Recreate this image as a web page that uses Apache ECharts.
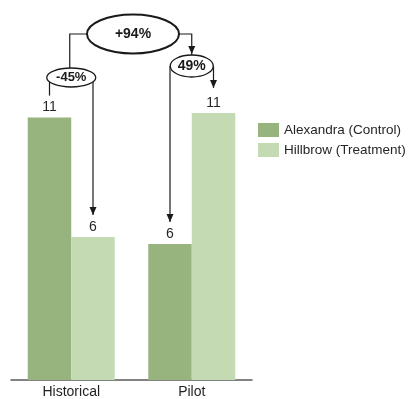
<!DOCTYPE html>
<html>
<head>
<meta charset="utf-8">
<script src="https://cdn.jsdelivr.net/npm/echarts@6/dist/echarts.min.js"></script>
<style>
  html, body { margin: 0; padding: 0; background: #fff; }
  #chart { width: 412px; height: 399px; }
</style>
</head>
<body>
<div id="chart"></div>
<script>
// Periods on the x axis
var periods = ['Historical', 'Pilot'];
// Series values per period
var alexandra = [11.2, 5.8];   // Alexandra (Control)
var hillbrow = [6.1, 11.4];    // Hillbrow (Treatment)
var seriesNames = ['Alexandra (Control)', 'Hillbrow (Treatment)'];
// Change annotations
var gapHistorical = '-45%';
var gapPilot = '49%';
var gapChange = '+94%';

var FONT = '"Liberation Sans", Arial, sans-serif';
var BAR_W = 43.5;
var INK = '#1a1a1a';

var chart = echarts.init(document.getElementById('chart'), null, { renderer: 'canvas' });

var option = {
  animation: false,
  textStyle: { fontFamily: FONT },
  grid: { left: 11, right: 160, top: 52, bottom: 18, containLabel: false },
  legend: {
    orient: 'vertical',
    left: 258,
    top: 123,
    padding: 0,
    itemWidth: 21,
    itemHeight: 14,
    itemGap: 6,
    icon: 'rect',
    textStyle: { fontFamily: FONT, fontSize: 13.5, color: '#262626' },
    data: seriesNames
  },
  xAxis: {
    type: 'category',
    data: periods,
    axisLine: { lineStyle: { color: '#5a5a5a', width: 1.5 } },
    axisTick: { show: false },
    axisLabel: { fontFamily: FONT, fontSize: 14, color: '#1f1f1f', margin: 5 }
  },
  yAxis: {
    type: 'value',
    min: 0,
    max: 14,
    show: false,
    splitLine: { show: false }
  },
  series: [
    {
      name: seriesNames[0],
      type: 'bar',
      data: alexandra,
      barWidth: BAR_W,
      barGap: '0%',
      itemStyle: { color: '#97b47f' },
      label: {
        show: true, position: 'top', distance: 3,
        fontFamily: FONT, fontSize: 14, color: '#262626',
        formatter: function (p) { return Math.round(p.value); }
      }
    },
    {
      name: seriesNames[1],
      type: 'bar',
      data: hillbrow,
      barWidth: BAR_W,
      barGap: '0%',
      itemStyle: { color: '#c4dab3' },
      label: {
        show: true, position: 'top', distance: 3,
        fontFamily: FONT, fontSize: 14, color: '#262626',
        formatter: function (p) { return Math.round(p.value); }
      }
    }
  ]
};

chart.setOption(option);

// Build the connector annotations from the axis scales
function catX(i) { return chart.convertToPixel({ xAxisIndex: 0 }, i); }
function valY(v) { return chart.convertToPixel({ yAxisIndex: 0 }, v); }

function arrowHead(x, tipY) {
  return {
    type: 'polygon',
    shape: { points: [[x - 3.5, tipY - 8], [x + 3.5, tipY - 8], [x, tipY]] },
    style: { fill: INK },
    z: 10
  };
}
function vline(x, y1, y2) {
  return { type: 'line', shape: { x1: x, y1: y1, x2: x, y2: y2 }, style: { stroke: INK, lineWidth: 1.2 }, z: 9 };
}
function polyline(pts) {
  return { type: 'polyline', shape: { points: pts }, style: { stroke: INK, lineWidth: 1.2, fill: null }, z: 9 };
}
function ellipse(cx, cy, rx, ry, lw) {
  return { type: 'ellipse', shape: { cx: cx, cy: cy, rx: rx, ry: ry }, style: { fill: '#fff', stroke: INK, lineWidth: lw }, z: 11 };
}
function label(cx, cy, text, size) {
  return {
    type: 'text', x: cx, y: cy, z: 12,
    style: { text: text, fontFamily: FONT, fontSize: size, fontWeight: 'bold', fill: INK, align: 'center', verticalAlign: 'middle' }
  };
}

var hx = catX(0), px = catX(1);
var hA = hx - BAR_W / 2, hH = hx + BAR_W / 2;
var pA = px - BAR_W / 2, pH = px + BAR_W / 2;
var TIP = 22;
var yHA = valY(alexandra[0]) - TIP;
var yHH = valY(hillbrow[0]) - TIP;
var yPA = valY(alexandra[1]) - TIP;
var yPH = valY(hillbrow[1]) - TIP - 3;

var bigC = { x: (hx + px) / 2 + 1.5, y: 34, rx: 46, ry: 19.5 };
var hC = { x: hx, y: 77.5, rx: 24.5, ry: 9.5 };
var pC = { x: px, y: 66, rx: 21.5, ry: 11 };

var elements = [
  // top connector from the overall change to both period gaps
  polyline([[bigC.x - bigC.rx, bigC.y], [hx - 1.5, bigC.y], [hx - 1.5, hC.y - hC.ry]]),
  polyline([[bigC.x + bigC.rx, bigC.y], [px, bigC.y], [px, pC.y - pC.ry]]),
  arrowHead(px, pC.y - pC.ry - 1),
  // historical gap connectors
  vline(hA, hC.y, yHA),
  vline(hH, hC.y, yHH),
  arrowHead(hH, yHH),
  // pilot gap connectors
  vline(pA, pC.y, yPA),
  arrowHead(pA, yPA),
  vline(pH, pC.y, yPH),
  arrowHead(pH, yPH),
  // ellipses and their labels
  ellipse(bigC.x, bigC.y, bigC.rx, bigC.ry, 2),
  label(bigC.x, bigC.y, gapChange, 14),
  ellipse(hC.x, hC.y, hC.rx, hC.ry, 1.3),
  label(hC.x, hC.y, gapHistorical, 13),
  ellipse(pC.x, pC.y, pC.rx, pC.ry, 1.3),
  label(pC.x, pC.y, gapPilot, 14)
];

chart.setOption({ graphic: { elements: elements } });
</script>
</body>
</html>
